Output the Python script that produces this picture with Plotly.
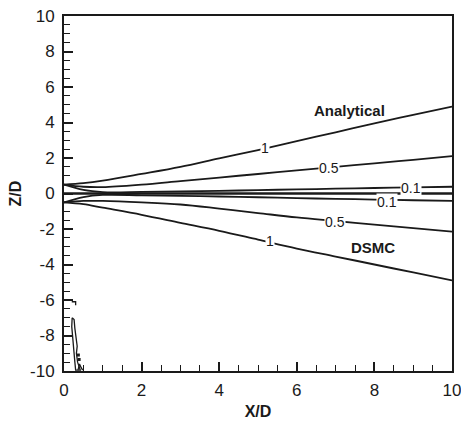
import plotly.graph_objects as go

# ---- data ----
x_d = [0, 0.5, 1, 2, 3, 4, 5, 6, 7, 8, 9, 10]
upper_1 = [0.5, 0.58, 0.72, 1.1, 1.5, 1.98, 2.45, 2.95, 3.45, 3.95, 4.43, 4.9]
upper_05 = [0.5, 0.38, 0.36, 0.5, 0.7, 0.9, 1.1, 1.3, 1.5, 1.7, 1.9, 2.11]
upper_01 = [0.5, 0.2, 0.08, 0.09, 0.12, 0.15, 0.19, 0.23, 0.27, 0.31, 0.35, 0.38]
lower_01 = [-0.5, -0.2, -0.08, -0.1, -0.13, -0.17, -0.21, -0.26, -0.3, -0.34, -0.38, -0.42]
lower_05 = [-0.5, -0.42, -0.42, -0.5, -0.62, -0.85, -1.1, -1.35, -1.55, -1.75, -1.95, -2.15]
lower_1 = [-0.5, -0.6, -0.8, -1.2, -1.65, -2.1, -2.6, -3.1, -3.55, -4.0, -4.45, -4.9]
zero_x = [0, 10]
zero_z = [0, 0]

# DSMC noise contour near the bottom-left
noise_x = [0.21, 0.26, 0.28, 0.31, 0.34, 0.32, 0.35, 0.42, 0.3, 0.28, 0.26, 0.24, 0.22, 0.2, 0.21]
noise_z = [-7.0, -7.1, -7.6, -8.1, -8.6, -9.0, -9.5, -9.95, -9.95, -9.5, -9.0, -8.5, -8.0, -7.5, -7.0]
noise2_x = [0.36, 0.4, 0.44, 0.48]
noise2_z = [-9.95, -9.6, -9.8, -9.95]
dots_x = [0.37, 0.39]
dots_z = [-9.1, -9.35]
mark_x = [0.2, 0.3, 0.3]
mark_z = [-6.1, -6.1, -6.3]

# contour labels: (text, x, z)
labels = [("1", 5.17, 2.56), ("0.5", 6.82, 1.44), ("0.1", 8.95, 0.33),
          ("0.1", 8.33, -0.5), ("0.5", 6.99, -1.6), ("1", 5.32, -2.7)]
texts = [("Analytical", 7.36, 4.7), ("DSMC", 7.97, -3.07)]

x_ticks = [0, 2, 4, 6, 8, 10]
z_ticks = [-10, -8, -6, -4, -2, 0, 2, 4, 6, 8, 10]

FONT = "Liberation Sans, Arial"
INK = "#1a1a1a"
line = dict(color=INK, width=1.8)
fig = go.Figure()
for zs in [upper_1, upper_05, upper_01, lower_01, lower_05, lower_1]:
    fig.add_trace(go.Scatter(x=x_d, y=zs, mode="lines", line=dict(line, shape="spline"), hoverinfo="skip"))
fig.add_trace(go.Scatter(x=zero_x, y=zero_z, mode="lines", line=dict(color=INK, width=2.5)))
fig.add_trace(go.Scatter(x=noise_x, y=noise_z, mode="lines", line=dict(color=INK, width=1.3)))
fig.add_trace(go.Scatter(x=noise2_x, y=noise2_z, mode="lines", line=dict(color=INK, width=1.3)))
fig.add_trace(go.Scatter(x=mark_x, y=mark_z, mode="lines", line=dict(color=INK, width=1.3)))
fig.add_trace(go.Scatter(x=dots_x, y=dots_z, mode="markers", marker=dict(color=INK, size=3, symbol="square")))

for t, xx, zz in labels:
    fig.add_annotation(x=xx, y=zz, text=t, showarrow=False, bgcolor="white",
                       font=dict(family=FONT, size=14, color=INK), borderpad=0)
for t, xx, zz in texts:
    fig.add_annotation(x=xx, y=zz, text="<b>%s</b>" % t, showarrow=False,
                       font=dict(family=FONT, size=15, color=INK))

axis_common = dict(showgrid=False, zeroline=False, showline=True, linecolor=INK,
                   linewidth=2, mirror=True, ticks="inside", ticklen=9, tickwidth=1.5,
                   tickcolor=INK, automargin=False, ticklabeloverflow="allow",
                   tickfont=dict(family=FONT, size=17, color=INK),
                   title_font=dict(family=FONT, size=16, color=INK))
fig.update_xaxes(axis_common, range=[0, 10], tickvals=x_ticks, ticktext=[str(v) for v in x_ticks],
                 minor=dict(ticks="inside", ticklen=6, dtick=0.5, tickcolor=INK, tickwidth=1.3),
                 title=dict(text="<b>X/D</b>", standoff=6), ticklabelstandoff=3)
fig.update_yaxes(axis_common, range=[-10, 10], tickvals=z_ticks, ticktext=[str(v) for v in z_ticks],
                 minor=dict(ticks="inside", ticklen=6, dtick=0.5, tickcolor=INK, tickwidth=1.3),
                 title=dict(text="<b>Z/D</b>", standoff=4), ticklabelstandoff=4)
fig.update_layout(width=461, height=425, margin=dict(l=64, r=9, t=16, b=54),
                  plot_bgcolor="white", paper_bgcolor="white", showlegend=False)
fig.write_html("out.html")
